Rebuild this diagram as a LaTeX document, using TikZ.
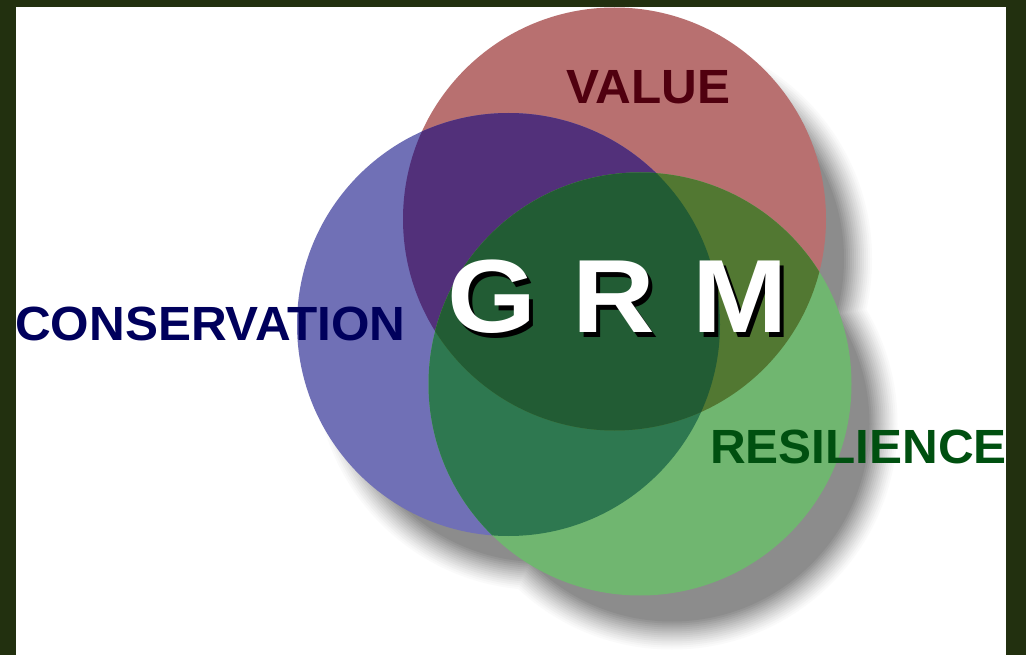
\documentclass[tikz,border=0pt]{standalone}
\usepackage{fontspec}
\setmainfont{Liberation Sans}
\usetikzlibrary{calc}

\definecolor{frame}{RGB}{34,48,15}
\definecolor{shade}{RGB}{140,140,140}
\definecolor{cred}{RGB}{184,112,112}
\definecolor{cblue}{RGB}{112,112,182}
\definecolor{cgreen}{RGB}{112,182,112}
\definecolor{crb}{RGB}{82,48,122}
\definecolor{cgb}{RGB}{46,120,80}
\definecolor{cgr}{RGB}{82,120,50}
\definecolor{crgb}{RGB}{34,92,52}
\definecolor{tblue}{RGB}{0,0,92}
\definecolor{tred}{RGB}{80,0,15}
\definecolor{tgreen}{RGB}{0,80,16}

\tikzset{
  label/.style={inner sep=0pt, anchor=base west, font=\bfseries\fontsize{48}{48}\selectfont},
  big/.style={inner sep=0pt, anchor=base west, font=\bfseries\fontsize{104}{104}\selectfont},
}

\newcommand{\rad}{211.5pt}
\newcommand{\wide}[2]{\scalebox{#1}[1]{#2}}
% white letter with a hard black shadow below right
\newcommand{\shadowed}[1]{%
  \rlap{\hspace{4pt}\raisebox{-5pt}{\color{black}\wide{1.1}{#1}}}%
  {\color{white}\wide{1.1}{#1}}}

\begin{document}
\begin{tikzpicture}[x=1pt,y=-1pt]
  \useasboundingbox (0,0) rectangle (1026,655);
  % frame and paper
  \fill[frame] (0,0) rectangle (1026,655);
  \fill[white] (16,7) rectangle (1006,655);

  % circle centres
  \coordinate (cR) at (614.5,219);
  \coordinate (cB) at (508.5,324.5);
  \coordinate (cG) at (640,384);

  % soft drop shadow of the three discs (one union per layer)
  \foreach \k in {0,...,14}{
    \pgfmathsetmacro{\p}{100*((\k+1)/15)^1.2}
    \pgfmathsetmacro{\rr}{211.5+14-2*\k}
    \fill[shade!\p!white]
      ($(cR)+(32,40)$) circle (\rr pt)
      ($(cB)+(32,40)$) circle (\rr pt)
      ($(cG)+(32,40)$) circle (\rr pt);
  }

  % discs and their overlaps
  \fill[cred] (cR) circle (\rad);
  \fill[cblue] (cB) circle (\rad);
  \begin{scope}
    \clip (cR) circle (\rad);
    \fill[crb] (cB) circle (\rad);
  \end{scope}
  \fill[cgreen] (cG) circle (\rad);
  \begin{scope}
    \clip (cG) circle (\rad);
    \fill[cgb] (cB) circle (\rad);
    \fill[cgr] (cR) circle (\rad);
    \clip (cR) circle (\rad);
    \fill[crgb] (cB) circle (\rad);
  \end{scope}

  % labels
  \node[label, text=tred] (value) at (566,104) {\wide{1.03}{VALUE}};
  \node[label, text=tblue] (conservation) at (15,341) {\wide{1.03}{CONSERVATION}};
  \node[label, text=tgreen] (resilience) at (710,463) {\wide{1.03}{RESILIENCE}};

  % GRM
  \node[big] (g) at (447,332) {\shadowed{G}};
  \node[big] (r) at (572,332) {\shadowed{R}};
  \node[big] (m) at (692,332) {\shadowed{M}};
\end{tikzpicture}
\end{document}
